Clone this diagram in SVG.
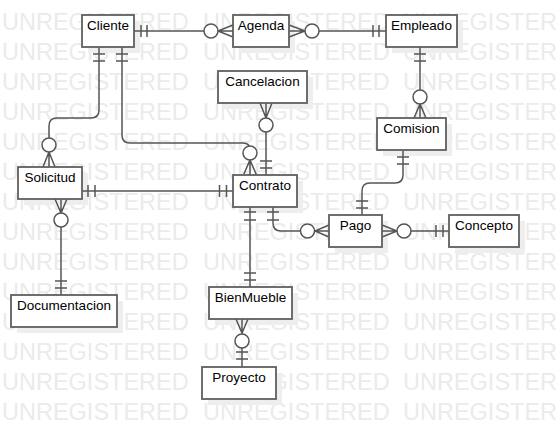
<svg xmlns="http://www.w3.org/2000/svg" width="558" height="439" viewBox="0 0 558 439">
<style>
.wm{font-family:"Liberation Sans",Arial,sans-serif;font-size:23.5px;fill:#ebebeb}
.sh{fill:#eeeeee;stroke:none}
.box{fill:#fff;stroke:#5f5f5f;stroke-width:1.8}
.lbl{font-family:"Liberation Sans",Arial,sans-serif;font-size:13.5px;fill:#000;text-anchor:middle}
.ln{fill:none;stroke:#555;stroke-width:1.5}
.cr{fill:#fff;stroke:#555;stroke-width:1.5}
</style>
<defs>
<g id="wmrow">
<text class="wm" x="2" y="0">UNREGISTERED</text>
<text class="wm" x="203" y="0">UNREGISTERED</text>
<text class="wm" x="403" y="0">UNREGISTERED</text>
</g>
</defs>
<rect width="558" height="439" fill="#fff"/>
<g id="watermark">
<use href="#wmrow" y="30"/>
<use href="#wmrow" y="60"/>
<use href="#wmrow" y="90"/>
<use href="#wmrow" y="120"/>
<use href="#wmrow" y="150"/>
<use href="#wmrow" y="180"/>
<use href="#wmrow" y="210"/>
<use href="#wmrow" y="240"/>
<use href="#wmrow" y="270"/>
<use href="#wmrow" y="300"/>
<use href="#wmrow" y="330"/>
<use href="#wmrow" y="360"/>
<use href="#wmrow" y="390"/>
<use href="#wmrow" y="420"/>
</g>
<g id="shadows">
<rect class="sh" x="88" y="21" width="52" height="32"/>
<rect class="sh" x="239" y="21" width="56" height="32"/>
<rect class="sh" x="392" y="21" width="71" height="32"/>
<rect class="sh" x="224" y="77" width="89" height="32"/>
<rect class="sh" x="383" y="124" width="69" height="32"/>
<rect class="sh" x="24" y="173" width="64" height="32"/>
<rect class="sh" x="239" y="181" width="64" height="32"/>
<rect class="sh" x="335" y="221" width="53" height="32"/>
<rect class="sh" x="455" y="221" width="70" height="32"/>
<rect class="sh" x="17" y="301" width="106" height="32"/>
<rect class="sh" x="215" y="293" width="83" height="32"/>
<rect class="sh" x="208" y="373" width="74" height="32"/>
</g>
<g id="connectors">
<path class="ln" d="M134,31 H233 M141,25 V37 M147,25 V37 M233,25 L218,31 L233,37"/>
<circle class="cr" cx="211" cy="31" r="7"/>
<path class="ln" d="M289,31 H386 M379,25 V37 M373,25 V37 M289,25 L305,31 L289,37"/>
<circle class="cr" cx="312" cy="31" r="7"/>
<path class="ln" d="M99,47 V110 Q99,118 91,118 H57 Q49,118 49,126 V167 M93,54 H105 M93,61 H105 M43,167 L49,152 L55,167"/>
<circle class="cr" cx="49" cy="145" r="7"/>
<path class="ln" d="M122,47 V135 Q122,143 130,143 H243 Q250,143 250,150 V175 M116,54 H128 M116,61 H128 M243.5,175 L250,160 L256.5,175"/>
<circle class="cr" cx="250" cy="153" r="7"/>
<path class="ln" d="M266,103 V175 M260,103 L266,118 L272,103 M260,161 H272 M260,168 H272"/>
<circle class="cr" cx="266" cy="125" r="7"/>
<path class="ln" d="M420,47 V118 M414,54 H426 M414,61 H426 M414,118 L420,104 L426,118"/>
<circle class="cr" cx="420" cy="97" r="7"/>
<path class="ln" d="M82,191 H233 M88,185 V197 M95,185 V197 M219.5,185 V197 M226.5,185 V197"/>
<path class="ln" d="M61,199 V295 M55,199 L61,213 L67,199 M55,281 H67 M55,288 H67"/>
<circle class="cr" cx="61" cy="220" r="7"/>
<path class="ln" d="M250,207 V287 M244,212 H256 M244,220 H256 M244,273 H256 M244,280 H256"/>
<path class="ln" d="M273,207 V223 Q273,231 281,231 H329 M267,212 H279 M267,220 H279 M329,225 L315,231 L329,237"/>
<circle class="cr" cx="307.5" cy="231" r="7"/>
<path class="ln" d="M403,151 V175 Q403,183 395,183 H370 Q362,183 362,191 V215 M397,157 H409 M397,164 H409 M356,201 H368 M356,208 H368"/>
<path class="ln" d="M382,231 H449 M382,225 L397,231 L382,237 M436,225 V237 M443,225 V237"/>
<circle class="cr" cx="404" cy="231" r="7"/>
<path class="ln" d="M242,319 V367 M236,319 L242,333 L248,319 M236,352 H248 M236,359 H248"/>
<circle class="cr" cx="242" cy="341" r="7"/>
</g>
<g id="Cliente"><rect class="box" x="82" y="15" width="52" height="32"/><text class="lbl" x="108" y="30">Cliente</text></g>
<g id="Agenda"><rect class="box" x="233" y="15" width="56" height="32"/><text class="lbl" x="261" y="30">Agenda</text></g>
<g id="Empleado"><rect class="box" x="386" y="15" width="71" height="32"/><text class="lbl" x="421.5" y="30">Empleado</text></g>
<g id="Cancelacion"><rect class="box" x="218" y="71" width="89" height="32"/><text class="lbl" x="262.5" y="86">Cancelacion</text></g>
<g id="Comision"><rect class="box" x="377" y="118" width="69" height="32"/><text class="lbl" x="411.5" y="133">Comision</text></g>
<g id="Solicitud"><rect class="box" x="18" y="167" width="64" height="32"/><text class="lbl" x="50" y="182">Solicitud</text></g>
<g id="Contrato"><rect class="box" x="233" y="175" width="64" height="32"/><text class="lbl" x="265" y="190">Contrato</text></g>
<g id="Pago"><rect class="box" x="329" y="215" width="53" height="32"/><text class="lbl" x="355.5" y="230">Pago</text></g>
<g id="Concepto"><rect class="box" x="449" y="215" width="70" height="32"/><text class="lbl" x="484" y="230">Concepto</text></g>
<g id="Documentacion"><rect class="box" x="11" y="295" width="106" height="32"/><text class="lbl" x="64" y="310">Documentacion</text></g>
<g id="BienMueble"><rect class="box" x="209" y="287" width="83" height="32"/><text class="lbl" x="250.5" y="302">BienMueble</text></g>
<g id="Proyecto"><rect class="box" x="202" y="367" width="74" height="32"/><text class="lbl" x="239" y="382">Proyecto</text></g>
</svg>
